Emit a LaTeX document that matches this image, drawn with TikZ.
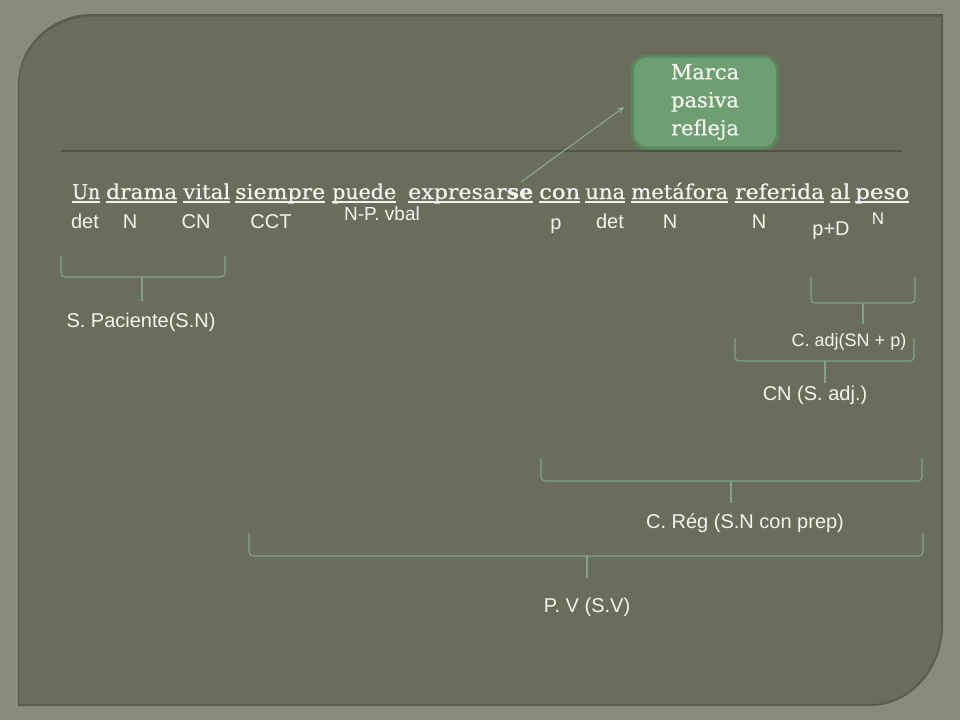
\documentclass[tikz,border=0pt]{standalone}
\usepackage{fontspec}
\usepackage{graphicx}
\setmainfont{DejaVu Serif}[FakeBold=0.5]
\newfontfamily\labfont{Liberation Sans}
\usetikzlibrary{arrows.meta}
\definecolor{outerbg}{HTML}{8A8B78}
\definecolor{panelc}{HTML}{6A6C5C}
\definecolor{paneledge}{HTML}{5A5C4D}
\definecolor{txt}{HTML}{F4F4EE}
\definecolor{bracec}{HTML}{82A484}
\definecolor{rulec}{HTML}{4B5646}
\definecolor{boxfill}{HTML}{6E9E72}
\definecolor{boxedge}{HTML}{5A875C}
\definecolor{arrc}{HTML}{92B294}
\newcommand{\fw}[2]{\resizebox{#1pt}{\height}{#2}}
\begin{document}
\begin{tikzpicture}[x=1pt,y=-1pt,
  word/.style={inner sep=0pt, anchor=base west, text=txt, font=\fontsize{20.5}{24}\selectfont},
  uline/.style={draw=txt, line width=1.2pt},
  lab/.style={inner sep=0pt, anchor=base, text=txt, font=\labfont\fontsize{20}{24}\selectfont},
  smalllab/.style={lab, font=\labfont\fontsize{17}{20}\selectfont},
  bracestyle/.style={draw=bracec, line width=1.1pt, rounded corners=4pt},
  mbox/.style={draw=boxedge, fill=boxfill, line width=3pt, rounded corners=14pt,
    minimum width=145pt, minimum height=92pt, inner sep=0pt, align=center, text=txt,
    font=\fontsize{21}{28}\selectfont},
  arr/.style={draw=arrc, line width=0.9pt, -{To[length=6pt,width=6pt]}}
]
\useasboundingbox (0,0) rectangle (960,720);
\fill[outerbg] (0,0) rectangle (960,720);
% panel
\fill[paneledge] (18,706) -- (18,84) .. controls (18,46) and (51,14) .. (92,14) -- (943,14) -- (943,625) .. controls (943,670) and (910,706) .. (870,706) -- cycle;
\fill[panelc] (19,704) -- (19,86) .. controls (19,48) and (52,17) .. (92,17) -- (941,17) -- (941,625) .. controls (941,668) and (909,704) .. (870,704) -- cycle;
% rule
\draw[rulec, line width=2pt] (61,151) -- (902,151);
% box
\node[mbox] (box) at (705,102) {Marca\\pasiva\\refleja};
% sentence words
\node[word] (w1) at (72,199) {\fw{28}{Un}};
\node[word] (w2) at (106,199) {\fw{71}{drama}};
\node[word] (w3) at (183,199) {\fw{47}{vital}};
\node[word] (w4) at (235,199) {\fw{90}{siempre}};
\node[word] (w5) at (332,199) {\fw{64}{puede}};
\node[word] (w6) at (408,199) {\fw{125}{expresar\textbf{se}}};
\node[word] (w7) at (539,199) {\fw{41}{con}};
\node[word] (w8) at (585,199) {\fw{40}{una}};
\node[word] (w9) at (631,199) {\fw{97}{metáfora}};
\node[word] (w10) at (735,199) {\fw{89}{referida}};
\node[word] (w11) at (830,199) {\fw{20}{al}};
\node[word] (w12) at (855,199) {\fw{54}{peso}};
\foreach \n in {w1,w2,w3,w4,w5,w6,w7,w8,w9,w10,w11,w12}
  \draw[uline] ([yshift=-3pt]\n.base west) -- ([yshift=-3pt]\n.base east);
% arrow
\coordinate (seTop) at (521,182);
\draw[arr, shorten >=9pt] (seTop) -- (box.west);
% labels
\node[lab] (l1) at (85,228) {det};
\node[lab] (l2) at (130,228) {N};
\node[lab] (l3) at (196,228) {CN};
\node[lab] (l4) at (271,228) {CCT};
\node[lab, font=\labfont\fontsize{19}{22}\selectfont] (l5) at (382,220) {N-P. vbal};
\node[lab] (l6) at (556,229) {p};
\node[lab] (l7) at (610,228) {det};
\node[lab] (l8) at (670,228) {N};
\node[lab] (l9) at (759,228) {N};
\node[lab] (l10) at (831,235) {p+D};
\node[smalllab] (l11) at (878,224) {N};
% braces
\draw[bracestyle] (61,256) -- (61,277) -- (225,277) -- (225,256);
\draw[bracestyle] (142,277) -- (142,301);
\node[lab] (spac) at (141,327) {S. Paciente(S.N)};
\draw[bracestyle] (811,277) -- (811,303) -- (915,303) -- (915,277);
\draw[bracestyle] (863,303) -- (863,324);
\node[lab, font=\labfont\fontsize{18}{22}\selectfont] (cadj) at (849,346) {C. adj(SN + p)};
\draw[bracestyle] (735,338) -- (735,361) -- (914,361) -- (914,338);
\draw[bracestyle] (825,361) -- (825,383);
\node[lab] (cnsadj) at (815,400) {CN (S. adj.)};
\draw[bracestyle] (541,458) -- (541,481) -- (922,481) -- (922,458);
\draw[bracestyle] (731,481) -- (731,503);
\node[lab] (creg) at (745,528) {C. Rég (S.N con prep)};
\draw[bracestyle] (249,533) -- (249,556) -- (923,556) -- (923,533);
\draw[bracestyle] (587,556) -- (587,578);
\node[lab] (pv) at (587,612) {P. V (S.V)};
\end{tikzpicture}
\end{document}
